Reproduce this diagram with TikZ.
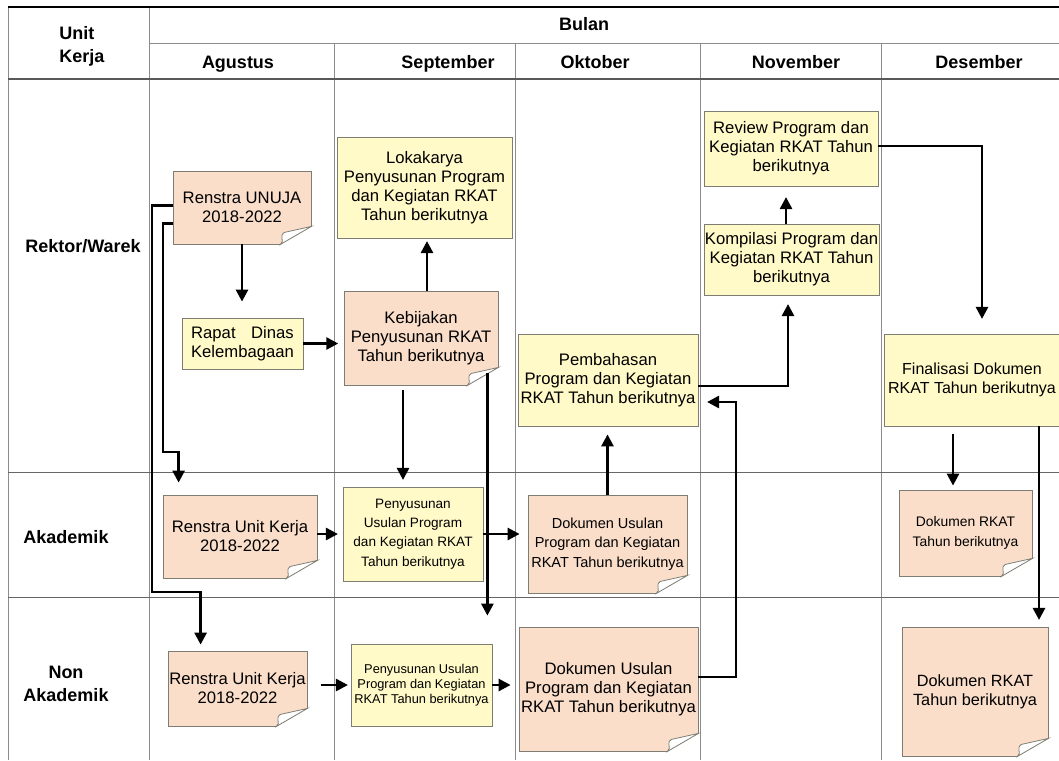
\documentclass[tikz,border=0pt]{standalone}
\usepackage{fontspec}
\setmainfont{Liberation Sans}
\usetikzlibrary{calc,arrows.meta}

\definecolor{planyellow}{RGB}{255,250,200}
\definecolor{docpeach}{RGB}{250,222,202}
\definecolor{boxgray}{RGB}{125,125,115}
\definecolor{gridgray}{RGB}{140,140,140}

% folded corner of a document box
\newcommand{\fold}[1]{%
  \fill[white] ($(#1.south east)+(1,-18)$) -- ($(#1.south east)+(1,1)$) -- ($(#1.south east)+(-32,1)$) -- cycle;
  \filldraw[fill=white,draw=boxgray,line width=0.6pt] ($(#1.south east)+(0,-18)$) -- ($(#1.south east)+(-27,-12)$)
    .. controls ($(#1.south east)+(-33,-8)$) and ($(#1.south east)+(-26,-4)$) .. ($(#1.south east)+(-31,0)$) -- cycle;
}

\begin{document}
\begin{tikzpicture}[x=0.75pt,y=-0.75pt,
    wh/.style 2 args={minimum width=#1*0.75pt,minimum height=#2*0.75pt},
    box/.style={draw=boxgray,line width=0.6pt,align=center,inner sep=0pt,font=\fontsize{12.5}{14.25}\selectfont},
    plan/.style={box,fill=planyellow},
    doc/.style={box,fill=docpeach},
    head/.style={font=\bfseries\fontsize{13.5}{17}\selectfont},
    month/.style={head,anchor=base},
    grid/.style={draw=gridgray,line width=0.7pt},
    flow/.style={line width=2pt,-{Triangle[length=9pt,width=9pt]}}]

    \useasboundingbox (0,0) rectangle (1059,760);
    \clip (0,0) rectangle (1059,760);

    % table
    \draw[grid] (8,7) -- (8,760);
    \draw[grid] (149,7) -- (149,760);
    \foreach \x in {334,515,700,881}
        \draw[grid] (\x,43) -- (\x,760);
    \draw[grid] (149,43) -- (1059,43);
    \draw[grid,draw=black!60] (8,472) -- (1059,472);
    \draw[grid,draw=black!60] (8,597) -- (1059,597);
    \draw[line width=1.1pt,draw=black!65] (8,79) -- (1059,79);
    \draw[line width=1.8pt] (8,7) -- (1059,7);

    \node[head,align=left] (unitkerja) at (82,46.5) {Unit\\Kerja};
    \node[month] (bulan) at (584,30) {Bulan};
    \node[month] (agustus) at (238,68) {Agustus};
    \node[month] (september) at (448,68) {September};
    \node[month] (oktober) at (595,68) {Oktober};
    \node[month] (november) at (796,68) {November};
    \node[month] (desember) at (979,68) {Desember};

    \node[head] (rektor) at (83,246) {Rektor/Warek};
    \node[head] (akademik) at (66,537) {Akademik};
    \node[head,align=center] (nonakademik) at (66,684) {Non\\Akademik};

    % Rektor/Warek
    \node[doc,wh={138}{73}] (renstraU) at (242,207.5) {Renstra UNUJA\\2018-2022};
    \node[plan,wh={175}{101}] (lokakarya) at (424.5,187.5) {Lokakarya\\Penyusunan Program\\dan Kegiatan RKAT\\Tahun berikutnya};
    \node[plan,wh={121}{51}] (rapat) at (242.5,343.5) {\makebox[77pt][s]{Rapat Dinas}\\Kelembagaan};
    \node[doc,wh={154}{94}] (kebijakan) at (421,338) {Kebijakan\\Penyusunan RKAT\\Tahun berikutnya};
    \node[plan,wh={180}{92}] (pembahasan) at (608,380) {Pembahasan\\Program dan Kegiatan\\RKAT Tahun berikutnya};
    \node[plan,wh={175}{71}] (kompilasi) at (791.5,259.5) {Kompilasi Program dan\\Kegiatan RKAT Tahun\\berikutnya};
    \node[plan,wh={174}{75}] (review) at (791,148.5) {Review Program dan\\Kegiatan RKAT Tahun\\berikutnya};
    \node[plan,wh={176}{92},font=\fontsize{12}{14}\selectfont] (finalisasi) at (972,380) {Finalisasi Dokumen\\RKAT Tahun berikutnya};

    % Akademik
    \node[doc,wh={154}{83}] (renstraA) at (240,536.5) {Renstra Unit Kerja\\2018-2022};
    \node[plan,wh={140}{94},font=\fontsize{10.2}{14.5}\selectfont] (penyA) at (413,534) {Penyusunan\\Usulan Program\\dan Kegiatan RKAT\\Tahun berikutnya};
    \node[doc,wh={159}{98},font=\fontsize{10.9}{14.6}\selectfont] (dokA) at (607.5,544) {Dokumen Usulan\\Program dan Kegiatan\\RKAT Tahun berikutnya};
    \node[doc,wh={133}{86},font=\fontsize{10.4}{15}\selectfont] (dokrA) at (965.5,533) {Dokumen RKAT\\Tahun berikutnya};

    % Non Akademik
    \node[doc,wh={139}{75}] (renstraN) at (237.5,688.5) {Renstra Unit Kerja\\2018-2022};
    \node[plan,wh={141}{82},font=\fontsize{9.6}{11.25}\selectfont] (penyN) at (421.5,685) {Penyusunan Usulan\\Program dan Kegiatan\\RKAT Tahun berikutnya};
    \node[doc,wh={179}{124}] (dokN) at (608.5,689) {Dokumen Usulan\\Program dan Kegiatan\\RKAT Tahun berikutnya};
    \node[doc,wh={146}{129},font=\fontsize{12.2}{14.5}\selectfont] (dokrN) at (975,691.5) {Dokumen RKAT\\Tahun berikutnya};

    \foreach \n in {renstraU,kebijakan,renstraA,dokA,dokrA,renstraN,dokN,dokrN}
        \fold{\n};

    % connectors
    \coordinate (bendA) at (163,452);
    \coordinate (bendN) at (152,592);
    \coordinate (bendP) at (736,402);

    \draw[flow,shorten >=9pt] ($(renstraU.west)+(0,16)$) -| (bendA) -| ($(renstraA.north west)+(16,0)$);
    \draw[flow,shorten >=4.5pt] ($(renstraU.west)+(0,-2)$) -| (bendN) -| ($(renstraN.north west)+(33,0)$);
    \draw[flow,shorten >=12pt] (renstraU.south) -- (renstraU.south |- rapat.north);
    \draw[flow,shorten >=4pt] (rapat.east) -- (rapat.east -| kebijakan.west);
    \draw[flow,shorten >=2pt] ($(kebijakan.north)+(6,0)$) -- ($(kebijakan.north |- lokakarya.south)+(6,0)$);
    \draw[flow,shorten <=3.5pt,shorten >=5pt] ($(kebijakan.south)+(-18,0)$) -- ($(kebijakan.south |- penyA.north)+(-18,0)$);
    \draw[flow,shorten >=21pt] ($(kebijakan.south east)+(-11,-12)$) -- ($(kebijakan.south east |- penyN.north)+(-11,0)$);

    \draw[flow,shorten >=3.5pt] (penyA.west -| renstraA.east) -- (penyA.west);
    \draw[flow,shorten >=6pt] (penyA.east) -- (penyA.east -| dokA.west);
    \draw[flow,shorten >=6pt] (dokA.north) -- (dokA.north |- pembahasan.south);
    \draw[flow,shorten <=10pt,shorten >=2pt] (penyN.west -| renstraN.east) -- (penyN.west);
    \draw[flow,shorten >=6pt] (penyN.east) -- (penyN.east -| dokN.west);
    \draw[flow,shorten >=6.5pt] ($(dokN.east)+(0,-12)$) -| (bendP) -- ($(pembahasan.east)+(0,22)$);

    \draw[flow,shorten >=6.5pt] ($(pembahasan.east)+(0,6)$) -| ($(kompilasi.south)+(-3.5,0)$);
    \draw[flow,shorten >=8pt] ($(kompilasi.north)+(-5.5,0)$) -- ($(kompilasi.north |- review.south)+(-5.5,0)$);
    \draw[flow,shorten >=11pt] ($(review.east)+(0,-2.5)$) -| ($(finalisasi.north)+(10,0)$);
    \draw[flow,shorten <=6pt,shorten >=3pt] ($(finalisasi.south -| dokrA.north)+(-12.5,0)$) -- ($(dokrA.north)+(-12.5,0)$);
    \draw[flow,shorten >=5pt] ($(finalisasi.south -| dokrN.north)+(64,0)$) -- ($(dokrN.north)+(64,0)$);
\end{tikzpicture}
\end{document}
